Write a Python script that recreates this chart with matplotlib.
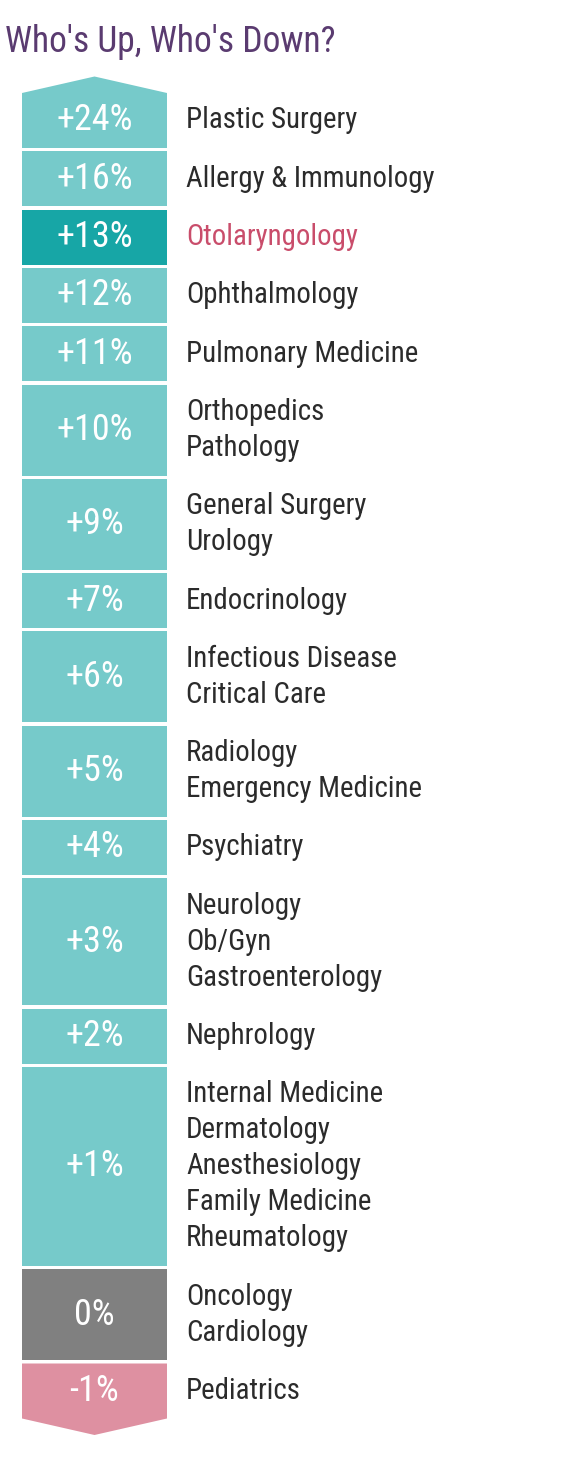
import matplotlib
matplotlib.use("Agg")
import matplotlib.pyplot as plt
from matplotlib import font_manager
from matplotlib.patches import Polygon

# ---- data ----
percent_labels = ["+24%", "+16%", "+13%", "+12%", "+11%", "+10%", "+9%", "+7%",
                  "+6%", "+5%", "+4%", "+3%", "+2%", "+1%", "0%", "-1%"]
percent_values = [24, 16, 13, 12, 11, 10, 9, 7, 6, 5, 4, 3, 2, 1, 0, -1]
specialties = [
    ["Plastic Surgery"],
    ["Allergy & Immunology"],
    ["Otolaryngology"],
    ["Ophthalmology"],
    ["Pulmonary Medicine"],
    ["Orthopedics", "Pathology"],
    ["General Surgery", "Urology"],
    ["Endocrinology"],
    ["Infectious Disease", "Critical Care"],
    ["Radiology", "Emergency Medicine"],
    ["Psychiatry"],
    ["Neurology", "Ob/Gyn", "Gastroenterology"],
    ["Nephrology"],
    ["Internal Medicine", "Dermatology", "Anesthesiology", "Family Medicine", "Rheumatology"],
    ["Oncology", "Cardiology"],
    ["Pediatrics"],
]
highlight = "Otolaryngology"
title = "Who's Up, Who's Down?"

# ---- fonts ----
names = {f.name for f in font_manager.fontManager.ttflist}
fam = None
for cand in ["Roboto Condensed", "Liberation Sans Narrow", "Roboto"]:
    if cand in names:
        fam = cand
        break
plt.rcParams["font.family"] = [fam, "DejaVu Sans"]

# ---- colors ----
C_UP = "#76caca"
C_HI = "#17a6a6"
C_ZERO = "#808080"
C_DOWN = "#de90a1"
C_TEXT = "#2b2b2b"
C_HITEXT = "#c94d6b"
C_TITLE = "#5a3b70"

W, H = 580, 1457
fig = plt.figure(figsize=(W / 100, H / 100), dpi=100)
ax = fig.add_axes([0, 0, 1, 1])
ax.set_xlim(0, W)
ax.set_ylim(H, 0)
ax.axis("off")

ax.text(5, 42, title, fontsize=25.6, color=C_TITLE, va="center", ha="left")

x0, x1 = 22, 167
xc = (x0 + x1) / 2
y = 93.0
line_h = 36.0
pad = 19.0
gap = 3.3
arrow = 16.5
n = len(percent_values)
for i, (val, lab, names_) in enumerate(zip(percent_values, percent_labels, specialties)):
    h = pad + line_h * len(names_)
    top, bot = y, y + h
    if val > 0:
        col = C_HI if highlight in names_ else C_UP
    elif val == 0:
        col = C_ZERO
    else:
        col = C_DOWN
    if i == 0:
        pts = [(x0, bot), (x0, top), (xc, top - arrow), (x1, top), (x1, bot)]
    elif i == n - 1:
        pts = [(x0, top), (x0, bot), (xc, bot + arrow), (x1, bot), (x1, top)]
    else:
        pts = [(x0, top), (x1, top), (x1, bot), (x0, bot)]
    ax.add_patch(Polygon(pts, closed=True, facecolor=col, edgecolor="none"))
    cy = (top + bot) / 2
    ax.text(xc, cy, lab, fontsize=26, color="white", ha="center", va="center")
    k = len(names_)
    for j, nm in enumerate(names_):
        ly = cy + (j - (k - 1) / 2) * line_h
        ax.text(186, ly, nm, fontsize=20.8, color=C_HITEXT if nm == highlight else C_TEXT,
                ha="left", va="center")
    y = bot + gap

fig.savefig("out.png", dpi=100, facecolor="white")
